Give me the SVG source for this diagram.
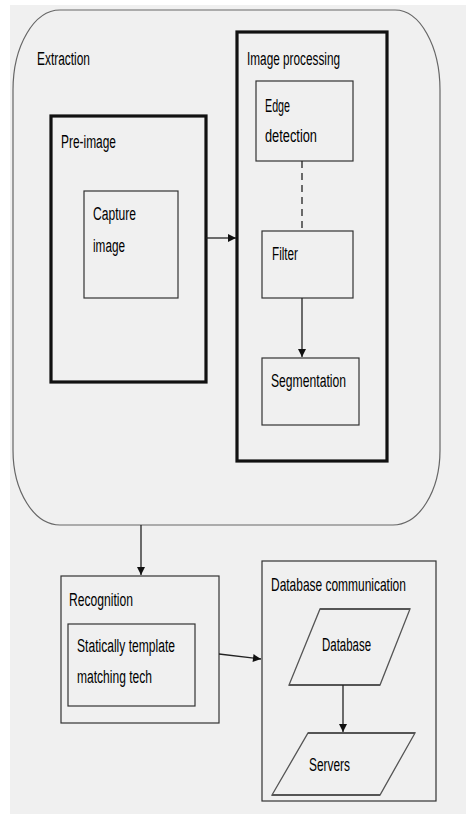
<svg xmlns="http://www.w3.org/2000/svg" width="466" height="814" viewBox="0 0 466 814">
<defs>
<style>
text{font-family:"Liberation Sans",Arial,sans-serif;font-size:18px;fill:#000}
.thin{fill:none;stroke:#333;stroke-width:1.2}
.thick{fill:none;stroke:#111;stroke-width:3.2}
.conn{fill:none;stroke:#222;stroke-width:1.3}
.para{fill:none;stroke:#555;stroke-width:1.3}
</style>
<marker id="ah" markerWidth="10" markerHeight="10" refX="9" refY="5" orient="auto" markerUnits="userSpaceOnUse">
<path d="M1,1 L9,5 L1,9 Z" fill="#111"/>
</marker>
</defs>
<rect x="0" y="0" width="466" height="814" fill="#ffffff"/>
<rect x="10" y="5" width="456" height="809" fill="#f0f0f0"/>

<g id="extraction">
<path d="M60,10 L395,10 A45,80 0 0 1 440,90 L440,450 A47,75 0 0 1 393,525 L60,525 A47,75 0 0 1 13,450 L13,90 A47,80 0 0 1 60,10 Z" fill="none" stroke="#666" stroke-width="1.2"/>
<text x="37" y="65" textLength="53" lengthAdjust="spacingAndGlyphs">Extraction</text>
</g>

<g id="pre-image">
<rect class="thick" x="51" y="116" width="155" height="266"/>
<text x="61" y="148" textLength="55" lengthAdjust="spacingAndGlyphs">Pre-image</text>
</g>

<g id="capture-image">
<rect class="thin" x="84" y="191" width="94" height="107"/>
<text x="93" y="220" textLength="43" lengthAdjust="spacingAndGlyphs">Capture</text>
<text x="93" y="252" textLength="32" lengthAdjust="spacingAndGlyphs">image</text>
</g>

<g id="image-processing">
<rect class="thick" x="237" y="32" width="150" height="429"/>
<text x="247" y="65" textLength="93" lengthAdjust="spacingAndGlyphs">Image processing</text>
</g>

<g id="edge-detection">
<rect class="thin" x="256" y="81" width="97" height="80"/>
<text x="265" y="112" textLength="25" lengthAdjust="spacingAndGlyphs">Edge</text>
<text x="265" y="142" textLength="52" lengthAdjust="spacingAndGlyphs">detection</text>
</g>

<g id="filter">
<rect class="thin" x="262" y="231" width="91" height="67"/>
<text x="272" y="260" textLength="26" lengthAdjust="spacingAndGlyphs">Filter</text>
</g>

<g id="segmentation">
<rect class="thin" x="262" y="358" width="97" height="67"/>
<text x="271" y="387" textLength="75" lengthAdjust="spacingAndGlyphs">Segmentation</text>
</g>

<g id="recognition">
<rect class="thin" x="61" y="576" width="158" height="147"/>
<text x="69" y="606" textLength="64" lengthAdjust="spacingAndGlyphs">Recognition</text>
</g>

<g id="template-matching">
<rect class="thin" x="68" y="624" width="127" height="82"/>
<text x="77" y="652" textLength="98" lengthAdjust="spacingAndGlyphs">Statically template</text>
<text x="77" y="683" textLength="75" lengthAdjust="spacingAndGlyphs">matching tech</text>
</g>

<g id="database-communication">
<rect class="thin" x="262" y="561" width="174" height="240"/>
<text transform="translate(271,591) scale(0.665,1)" x="0" y="0">Database communication</text>
</g>

<g id="database">
<path class="para" d="M320,609 L410,609 L380,685 L289,685 Z"/>
<path d="M320,609 L410,609 M289,685 L380,685" stroke="#555" stroke-width="2.2" fill="none"/>
<text x="322" y="651" textLength="49" lengthAdjust="spacingAndGlyphs">Database</text>
</g>

<g id="servers">
<path class="para" d="M308,733 L415,733 L380,795 L272,795 Z"/>
<path d="M308,733 L415,733 M272,795 L380,795" stroke="#555" stroke-width="2.2" fill="none"/>
<text x="309" y="771" textLength="41" lengthAdjust="spacingAndGlyphs">Servers</text>
</g>

<g id="connectors">
<line class="conn" x1="206" y1="238" x2="236" y2="238" marker-end="url(#ah)"/>
<line class="conn" x1="302" y1="161" x2="302" y2="231" stroke-dasharray="7,5"/>
<line class="conn" x1="302" y1="298" x2="302" y2="357" marker-end="url(#ah)"/>
<line class="conn" x1="141" y1="525" x2="141" y2="575" marker-end="url(#ah)"/>
<line class="conn" x1="219" y1="654" x2="261" y2="659" marker-end="url(#ah)"/>
<line class="conn" x1="343" y1="685" x2="343" y2="732" marker-end="url(#ah)"/>
</g>
</svg>
